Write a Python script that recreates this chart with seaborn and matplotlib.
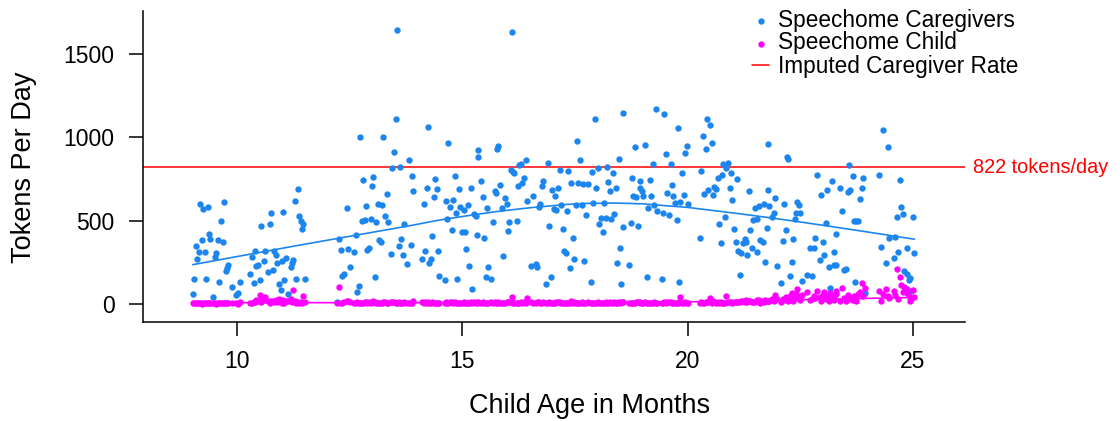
import numpy as np
import pandas as pd
import matplotlib
matplotlib.use("Agg")
import matplotlib.pyplot as plt
import seaborn as sns
from matplotlib.transforms import blended_transform_factory

# ---------------- data ----------------
ages = [
    9.18, 9.25, 9.35, 9.71, 9.65, 11.35, 11.29, 11.38, 11.43, 11.47,
    11.45, 10.75, 11.02, 10.73, 10.53, 9.38, 9.22, 9.41, 9.58, 9.68,
    9.08, 9.16, 9.29, 9.12, 9.53, 9.52, 10.40, 10.63, 10.83, 10.86,
    10.34, 10.60, 10.46, 10.43, 10.89, 10.99, 11.09, 11.25, 11.23, 11.19,
    9.81, 9.78, 9.75, 10.80, 10.69, 10.29, 9.05, 9.32, 9.61, 10.50,
    10.38, 10.07, 9.89, 11.05, 10.93, 10.97, 11.32, 11.52, 10.02, 9.97,
    9.02, 9.47, 11.14, 10.55,
    13.54, 13.52, 14.24, 12.73, 13.25, 14.69, 13.48, 13.81, 13.45, 13.62,
    15.35, 15.35, 13.88, 13.02, 12.79, 12.99, 14.40, 14.83, 14.21, 14.43,
    13.91, 14.93, 15.19, 13.32, 14.37, 14.63, 14.80, 14.73, 14.14, 12.86,
    13.12, 13.22, 12.43, 14.95, 15.04, 15.13, 14.86, 15.25, 15.30, 13.28,
    12.77, 12.84, 12.97, 13.09, 13.36, 13.71, 14.67, 14.77, 15.00, 15.07,
    15.32, 12.63, 12.27, 14.33, 13.16, 13.20, 13.65, 13.59, 13.85, 12.93,
    12.89, 12.30, 12.47, 12.60, 13.42, 13.68, 14.18, 14.47, 15.08, 14.11,
    14.30, 14.27, 13.78, 12.50, 15.15, 12.37, 12.34, 13.06, 14.49, 14.61,
    14.89, 12.71, 12.66, 15.22, 12.23,
    16.11, 17.94, 18.56, 17.55, 15.79, 15.78, 17.62, 18.47, 16.41, 16.26,
    16.30, 16.89, 16.08, 16.15, 16.12, 17.16, 17.35, 17.88, 18.00, 18.21,
    18.34, 16.37, 16.32, 16.23, 16.80, 16.76, 17.42, 17.57, 17.68, 17.79,
    18.24, 15.41, 15.84, 15.72, 15.75, 15.46, 15.94, 15.98, 15.88, 15.55,
    17.13, 16.99, 17.06, 16.57, 16.43, 16.73, 16.70, 17.19, 17.04, 17.08,
    17.32, 17.52, 17.66, 17.91, 18.14, 17.97, 18.28, 18.40, 17.75, 18.37,
    18.07, 18.18, 18.30, 18.04, 18.11, 16.04, 16.21, 15.68, 16.01, 15.49,
    16.93, 17.23, 17.45, 18.57, 18.50, 17.25, 17.30, 17.48, 17.71, 15.91,
    18.43, 16.52, 16.63, 16.66, 15.58, 17.39, 15.52, 15.64, 16.97, 16.86,
    17.85, 18.53,
    19.29, 19.48, 19.78, 20.43, 20.49, 20.34, 20.41, 20.54, 19.98, 19.95,
    19.52, 19.62, 19.22, 18.83, 19.06, 21.79, 19.87, 20.30, 20.79, 20.89,
    20.86, 20.96, 21.09, 20.76, 20.67, 18.76, 18.94, 19.16, 18.95, 18.99,
    19.66, 20.59, 20.63, 20.45, 20.37, 20.57, 20.93, 20.99, 21.36, 21.79,
    18.79, 18.85, 19.01, 19.19, 19.55, 19.68, 19.92, 19.72, 19.84, 20.01,
    19.26, 19.13, 19.32, 19.45, 19.59, 19.76, 21.49, 21.59, 21.69, 21.81,
    20.83, 21.46, 21.54, 20.70, 18.74, 18.90, 21.03, 21.39, 21.75, 20.27,
    20.73, 21.07, 21.22, 21.27, 21.29, 21.61, 21.66, 21.42, 21.53, 21.12,
    21.18, 21.32, 21.72, 18.70, 21.16, 19.10, 19.42, 19.81,
    24.34, 24.44, 22.20, 22.23, 23.59, 22.86, 23.66, 23.88, 24.24, 24.71,
    23.20, 23.39, 23.55, 23.61, 23.86, 23.09, 22.96, 23.82, 21.94, 22.14,
    22.43, 22.46, 21.91, 21.88, 22.41, 22.50, 22.37, 23.42, 23.06, 23.68,
    23.74, 23.79, 24.73, 24.77, 24.64, 25.00, 22.18, 23.29, 22.34, 22.12,
    22.83, 23.00, 22.72, 22.80, 24.47, 24.61, 24.28, 24.87, 25.03, 24.67,
    24.57, 24.41, 23.03, 23.24, 22.94, 22.31, 21.98, 23.13, 23.25, 23.30,
    23.46, 23.51, 24.81, 24.86, 24.93, 24.90, 22.28, 22.64, 22.76, 22.54,
    22.08, 23.71, 23.16, 23.93, 24.95,
]

caregiver_tokens = [
    600, 568, 580, 612, 500, 690, 620, 528, 498, 478,
    448, 544, 552, 478, 470, 422, 386, 390, 384, 370,
    350, 310, 314, 272, 304, 284, 320, 316, 320, 294,
    284, 258, 232, 228, 244, 260, 276, 264, 244, 220,
    232, 214, 198, 204, 190, 178, 148, 152, 134, 146,
    124, 130, 104, 146, 118, 86, 152, 152, 68, 56,
    60, 44, 60, 44,
    1642, 1110, 1064, 1002, 1002, 966, 910, 864, 816, 822,
    924, 880, 768, 760, 742, 710, 748, 770, 696, 688,
    676, 688, 696, 658, 644, 620, 622, 584, 602, 590,
    602, 592, 574, 580, 564, 594, 544, 540, 530, 528,
    496, 502, 508, 492, 492, 480, 508, 444, 432, 434,
    416, 414, 392, 408, 384, 370, 388, 350, 354, 338,
    324, 326, 328, 312, 302, 294, 318, 316, 328, 268,
    272, 244, 238, 224, 226, 182, 170, 162, 168, 146,
    150, 108, 74, 92, 14,
    1632, 1112, 1146, 976, 948, 932, 864, 870, 862, 836,
    840, 846, 806, 784, 794, 802, 796, 794, 816, 822,
    784, 754, 726, 706, 738, 706, 728, 724, 720, 718,
    734, 740, 712, 680, 668, 644, 636, 600, 576, 576,
    696, 686, 648, 646, 618, 600, 584, 594, 572, 562,
    560, 596, 596, 608, 606, 698, 676, 694, 536, 542,
    516, 514, 512, 480, 430, 492, 496, 490, 438, 394,
    470, 448, 396, 464, 336, 316, 308, 268, 256, 290,
    248, 226, 238, 220, 224, 216, 162, 152, 160, 118,
    130, 120,
    1170, 1138, 1056, 1110, 1076, 1010, 932, 964, 950, 908,
    900, 842, 840, 940, 956, 960, 788, 798, 840, 844,
    818, 784, 752, 772, 756, 756, 740, 742, 694, 680,
    712, 702, 690, 684, 662, 654, 698, 626, 676, 682,
    648, 644, 650, 648, 664, 648, 654, 604, 614, 600,
    596, 576, 560, 548, 532, 502, 578, 590, 602, 590,
    524, 502, 510, 478, 488, 470, 452, 444, 458, 394,
    364, 370, 364, 388, 374, 384, 372, 338, 310, 318,
    304, 294, 252, 232, 174, 160, 152, 134,
    1046, 944, 884, 870, 834, 776, 766, 754, 776, 744,
    738, 694, 670, 686, 698, 682, 656, 628, 634, 602,
    612, 592, 548, 520, 544, 548, 510, 560, 486, 498,
    498, 500, 582, 540, 524, 520, 442, 420, 390, 376,
    394, 370, 338, 334, 394, 400, 344, 334, 304, 314,
    276, 248, 294, 312, 264, 250, 230, 220, 232, 234,
    204, 212, 200, 178, 158, 144, 168, 174, 170, 136,
    124, 130, 96, 68, 80,
]

child_tokens = [
    4, 6, 3, 5, 8, 12, 20, 6, 10, 50,
    8, 18, 25, 8, 14, 5, 2, 7, 4, 3,
    6, 3, 5, 8, 2, 6, 12, 44, 10, 22,
    6, 30, 18, 24, 14, 8, 16, 82, 12, 28,
    5, 3, 6, 15, 20, 8, 4, 7, 3, 54,
    10, 14, 4, 6, 30, 12, 4, 10, 2, 5,
    3, 4, 20, 26,
    8, 4, 12, 6, 10, 5, 14, 3, 9, 6,
    11, 7, 4, 16, 5, 9, 3, 12, 6, 8,
    18, 4, 10, 7, 5, 13, 3, 9, 6, 11,
    4, 8, 15, 5, 10, 3, 7, 12, 6, 9,
    4, 14, 5, 8, 3, 10, 6, 12, 4, 7,
    9, 5, 100, 11, 6, 3, 8, 13, 4, 10,
    5, 7, 16, 3, 9, 6, 12, 4, 8, 10,
    5, 7, 3, 14, 6, 9, 4, 11, 5, 8,
    3, 7, 12, 6, 5,
    44, 6, 10, 4, 12, 5, 8, 14, 7, 3,
    9, 5, 11, 6, 4, 13, 7, 3, 10, 5,
    8, 12, 4, 6, 9, 3, 15, 5, 7, 10,
    4, 8, 6, 11, 3, 9, 5, 12, 7, 4,
    10, 6, 3, 8, 34, 5, 11, 4, 7, 9,
    6, 3, 12, 5, 8, 4, 10, 7, 3, 9,
    5, 11, 6, 4, 8, 12, 3, 7, 10, 5,
    9, 4, 6, 13, 5, 8, 3, 10, 6, 7,
    4, 11, 5, 9, 3, 8, 6, 12, 4, 7,
    5, 10,
    7, 12, 5, 9, 38, 6, 10, 4, 8, 11,
    5, 9, 3, 7, 12, 18, 6, 10, 8, 13,
    48, 9, 14, 5, 11, 4, 8, 6, 10, 3,
    7, 12, 5, 9, 6, 15, 10, 8, 20, 16,
    4, 9, 6, 3, 11, 5, 8, 7, 40, 6,
    10, 4, 8, 5, 12, 7, 14, 22, 9, 18,
    6, 12, 25, 8, 5, 10, 11, 16, 20, 7,
    9, 13, 18, 10, 24, 8, 15, 12, 20, 11,
    16, 9, 22, 4, 14, 7, 5, 10,
    60, 45, 30, 18, 40, 80, 25, 50, 80, 160,
    35, 20, 55, 30, 128, 45, 20, 70, 54, 22,
    90, 40, 15, 28, 60, 25, 35, 98, 30, 45,
    20, 60, 114, 70, 208, 84, 44, 60, 20, 30,
    35, 55, 25, 50, 35, 55, 20, 90, 40, 30,
    75, 88, 70, 25, 40, 64, 30, 15, 45, 80,
    35, 20, 100, 65, 20, 50, 45, 74, 30, 55,
    12, 40, 64, 98, 28,
]

imputed_rate = 822
x_ticks = [10, 15, 20, 25]
y_ticks = [0, 500, 1000, 1500]
series_labels = ["Speechome Caregivers", "Speechome Child", "Imputed Caregiver Rate"]

BLUE = "#1C86EE"
MAGENTA = "#FF00FF"
RED = "#FF0000"


def lowess(x, y, f=2.0 / 3.0, iters=3):
    x = np.asarray(x, float)
    y = np.asarray(y, float)
    order = np.argsort(x, kind="mergesort")
    x, y = x[order], y[order]
    n = len(x)
    r = int(np.ceil(f * n))
    h = np.array([np.sort(np.abs(x - x[i]))[r - 1] for i in range(n)])
    w = np.clip(np.abs((x[:, None] - x[None, :]) / h[None, :]), 0.0, 1.0)
    w = (1 - w ** 3) ** 3
    delta = np.ones(n)
    yest = np.zeros(n)
    for it in range(iters + 1):
        for i in range(n):
            wt = delta * w[:, i]
            A = np.array([[wt.sum(), (wt * x).sum()], [(wt * x).sum(), (wt * x * x).sum()]])
            b = np.array([(wt * y).sum(), (wt * y * x).sum()])
            beta = np.linalg.solve(A, b)
            yest[i] = beta[0] + beta[1] * x[i]
        res = y - yest
        s = np.median(np.abs(res))
        if s == 0:
            break
        d = np.clip(res / (6.0 * s), -1, 1)
        delta = (1 - d ** 2) ** 2
    return x, yest


df = pd.DataFrame({"age": ages, "caregiver": caregiver_tokens, "child": child_tokens})

sns.set_style("ticks")
plt.rcParams["font.family"] = ["Liberation Sans", "DejaVu Sans"]
plt.rcParams["text.color"] = "black"
plt.rcParams["axes.labelcolor"] = "black"
plt.rcParams["xtick.color"] = "black"
plt.rcParams["ytick.color"] = "black"

W, H = 1120, 421
fig = plt.figure(figsize=(W / 100, H / 100), dpi=100)
ax_l, ax_r, ax_t, ax_b = 142.7, 965.0, 11.0, 322.3
ax = fig.add_axes([ax_l / W, 1 - ax_b / H, (ax_r - ax_l) / W, (ax_b - ax_t) / H])

ax.axhline(imputed_rate, color=RED, lw=1.1, zorder=1, label=series_labels[2])
sns.scatterplot(data=df, x="age", y="caregiver", color=BLUE, s=21, linewidth=0,
                ax=ax, label=series_labels[0], zorder=2)
sns.scatterplot(data=df, x="age", y="child", color=MAGENTA, s=21, linewidth=0,
                ax=ax, label=series_labels[1], zorder=3)

cx, cy = lowess(df["age"], df["caregiver"])
kx, ky = lowess(df["age"], df["child"])
sns.lineplot(x=cx, y=cy, estimator=None, sort=False, color=BLUE, lw=1.2, ax=ax, legend=False, zorder=4)
sns.lineplot(x=kx, y=ky, estimator=None, sort=False, color=MAGENTA, lw=1.2, ax=ax, legend=False, zorder=5)

ax.set_xlim(7.908, 26.153)
ax.set_ylim(-110, 1759)
ax.set_xticks(x_ticks)
ax.set_yticks(y_ticks)
ax.set_xlabel("")
ax.set_ylabel("")
for side in ["top", "right"]:
    ax.spines[side].set_visible(False)
for side in ["left", "bottom"]:
    ax.spines[side].set_linewidth(1.1)
    ax.spines[side].set_color("black")
ax.tick_params(axis="both", direction="out", length=10.3, width=1.1, labelsize=16.5,
               colors="black", labelcolor="black")
ax.tick_params(axis="y", pad=10)
ax.tick_params(axis="x", pad=9.5)

tr = blended_transform_factory(ax.transAxes, ax.transData)
ax.text(1 + 8 / (ax_r - ax_l), imputed_rate, f"{imputed_rate} tokens/day", color=RED,
        fontsize=14.3, ha="left", va="center", transform=tr, clip_on=False)

fig.text(590 / W, 1 - 406 / H, "Child Age in Months", fontsize=19.5, ha="center", va="center",
         color="black")
fig.text(24 / W, 1 - 167 / H, "Tokens Per Day", fontsize=19.5, ha="center", va="center",
         rotation=90, color="black")

handles, labels = ax.get_legend_handles_labels()
hmap = dict(zip(labels, handles))
leg = ax.legend([hmap[l] for l in series_labels], series_labels,
                loc="upper left", bbox_to_anchor=(752 / W, 1 - 8.5 / H),
                bbox_transform=fig.transFigure, frameon=False, fontsize=16.3,
                borderpad=0, borderaxespad=0, handlelength=0.76, handletextpad=0.41,
                labelspacing=0.0)
for t in leg.get_texts():
    t.set_color("black")

fig.savefig("out.png", dpi=100)
